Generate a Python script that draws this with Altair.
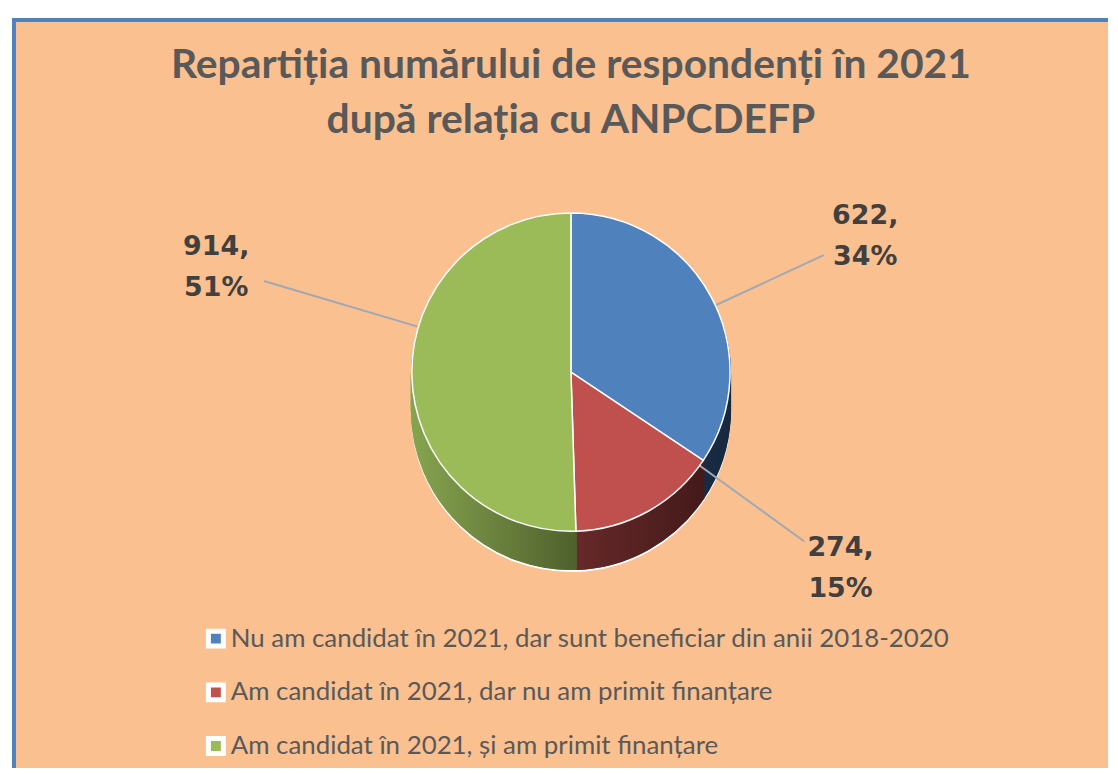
import altair as alt
import pandas as pd

# ---- data ----
categories = [
    "Nu am candidat în 2021, dar sunt beneficiar din anii 2018-2020",
    "Am candidat în 2021, dar nu am primit finanțare",
    "Am candidat în 2021, și am primit finanțare",
]
counts = [622, 274, 914]
percents = [34, 15, 51]
order_idx = [0, 1, 2]

title_lines = ["Repartiția numărului de respondenți în 2021", "după relația cu ANPCDEFP"]

# ---- styles ----
top_colors = ["#4F81BD", "#C0504D", "#9BBB59"]
side_grads = [("#25405F", "#17283F"), ("#682929", "#451A1A"), ("#86A44F", "#50612D")]
label_theta_nudge = [0.058, -0.436, 0.304]
label_radius = [326, 335, 372]
leader_outer = [280, 290, 322]

W, H = 1100, 752
CX, CY = 560, 354
R = 160
DEPTH = 40

df = pd.DataFrame({"cat": categories, "value": counts, "pct": percents, "idx": order_idx})

base = (
    alt.Chart(df)
    .transform_joinaggregate(total="sum(value)")
    .transform_window(cum="sum(value)", sort=[alt.SortField("idx")], frame=[None, 0])
    .transform_calculate(
        t0="2*PI*(datum.cum-datum.value)/datum.total",
        t1="2*PI*datum.cum/datum.total",
        tm="PI*(2*datum.cum-datum.value)/datum.total",
        lbl="format(datum.value, 'd') + ',\\n' + datum.pct + '%'",
    )
)

theta = alt.Theta("t0:Q", scale=None)
theta2 = alt.Theta2("t1:Q")

layers = []

# border (left & top only, the rest is cut off in the reference)
border_df = pd.DataFrame({"b": [0]})
layers.append(
    alt.Chart(border_df).mark_rule(color="#4F81BD", strokeWidth=4).encode(
        x=alt.value(0), y=alt.value(-2), y2=alt.value(H)
    )
)
layers.append(
    alt.Chart(border_df).mark_rule(color="#4F81BD", strokeWidth=4).encode(
        y=alt.value(0), x=alt.value(-2), x2=alt.value(W)
    )
)

# side (extrusion), deepest first
for k in range(DEPTH, 0, -2):
    for i, cat in enumerate(categories):
        g = alt.LinearGradient(
            gradient="linear",
            stops=[alt.GradientStop(color=side_grads[i][0], offset=0),
                   alt.GradientStop(color=side_grads[i][1], offset=1)],
            x1=0, x2=1, y1=0, y2=0,
        )
        if k == DEPTH:
            mk = dict(radius=R, fill=g, stroke="white", strokeWidth=2)
        else:
            mk = dict(radius=R, fill=g, stroke=g, strokeWidth=2)
        layers.append(
            base.transform_filter(alt.datum.cat == cat)
            .mark_arc(**mk)
            .encode(theta=theta, theta2=theta2, x=alt.value(CX), y=alt.value(CY + k))
        )

# leader lines (the top face hides their inner part)
for i, cat in enumerate(categories):
    layers.append(
        base.transform_filter(alt.datum.cat == cat)
        .transform_calculate(la=f"datum.tm + ({label_theta_nudge[i]})")
        .mark_arc(radius=leader_outer[i], radius2=120, stroke="#A0A8B4",
                  strokeWidth=2, fillOpacity=0)
        .encode(theta=alt.Theta("la:Q", scale=None), theta2=alt.Theta2("la:Q"),
                x=alt.value(CX), y=alt.value(CY))
    )

# top face
layers.append(
    base.mark_arc(radius=R, stroke="white", strokeWidth=1.5).encode(
        theta=theta,
        theta2=theta2,
        x=alt.value(CX),
        y=alt.value(CY),
        color=alt.Color(
            "cat:N",
            scale=alt.Scale(domain=categories, range=top_colors),
            sort=categories,
            legend=alt.Legend(
                orient="none", legendX=190, legendY=609, title=None,
                symbolType="square", symbolSize=225, symbolStrokeWidth=5,
                symbolStrokeColor="white", labelFont="Lato", labelFontSize=26,
                labelColor="#595959", labelOffset=2, rowPadding=18,
                labelLimit=1000, padding=0,
            ),
        ),
    )
)

# data labels
for i, cat in enumerate(categories):
    layers.append(
        base.transform_filter(alt.datum.cat == cat)
        .transform_calculate(la=f"datum.tm + ({label_theta_nudge[i]})")
        .mark_text(radius=label_radius[i], font="DejaVu Sans", fontSize=27,
                   fontWeight="bold", color="#404040", lineHeight=41,
                   lineBreak="\n", align="center", baseline="middle", dy=-20)
        .encode(theta=alt.Theta("la:Q", scale=None), text="lbl:N",
                x=alt.value(CX), y=alt.value(CY))
    )

chart = (
    alt.layer(*layers)
    .properties(
        width=W,
        height=H,
        padding={"left": 2, "top": 6, "right": 0, "bottom": 0},
        background="white",
        title=alt.TitleParams(
            text=title_lines, font="Lato", fontSize=41, fontWeight="bold",
            color="#595959", anchor="middle", frame="group", offset=-127,
            lineHeight=56, dx=10,
        ),
    )
    .configure_view(fill="#FAC090", stroke=None)
)

chart.save("out.html", embed_options={"renderer": "svg", "actions": False})
